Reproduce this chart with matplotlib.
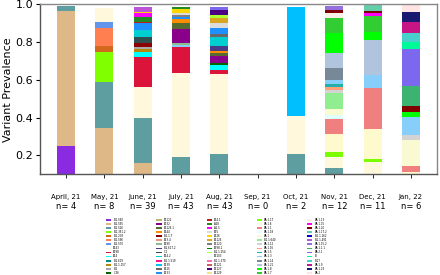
import matplotlib
matplotlib.use("Agg")
import matplotlib.pyplot as plt
from matplotlib.patches import Patch

months = ["April, 21", "May, 21", "June, 21", "July, 21", "Aug, 21",
          "Sep, 21", "Oct, 21", "Nov, 21", "Dec, 21", "Jan, 22"]
n_seq = [4, 8, 39, 43, 43, 0, 2, 12, 11, 6]

lineages = [
    "B.1.560", "B.1.595", "B.1.526", "B.1.351.2", "B.1.238", "B.1.596", "B.1.570",
    "AY.43", "AY.98", "AY.4", "B.1.619", "B.1.1.157", "B.1", "C.36",
    "AY.122", "AY.32", "AY.126.1", "AY.44", "B.1.1.7", "AY.3.4", "AY.90",
    "B.1.617.2", "C.1", "AY.4.2", "B.1.1.519", "AY.39", "AY.25", "AY.33",
    "AY.4.1", "A.28", "A.2.5", "AY.5", "AY.26", "AY.126", "AY.120",
    "AY.98.1", "B.1.1.254", "AY.103", "B.1.1.370", "AY.121", "AY.127", "AY.129",
    "BA.1.17", "BA.1.6", "BA.1.1", "BA.1.18", "BA.1", "B.1.1.640", "BA.1.12",
    "BA.1.16", "BA.1.5", "BA.1.3", "BA.1.14", "BA.1.21", "BA.1.8", "BA.1.7",
    "BA.1.13", "BA.1.15", "BA.1.20", "BA.1.17.2", "B.1.1.162", "B.1.1.491", "BA.1.15.2",
    "BA.1.1.1", "BA.2.1", "B", "B.17", "BA.1.9", "BA.1.23", "BA.2",
]
colors = [
    "blueviolet", "burlywood", "cadetblue", "chartreuse", "chocolate", "coral", "cornflowerblue",
    "cornsilk", "crimson", "cyan", "darkcyan", "darkgoldenrod", "darkgray", "darkgreen",
    "darkkhaki", "darkmagenta", "darkolivegreen", "darkorange", "darkred", "darksalmon", "darkseagreen",
    "darkslateblue", "darkslategray", "darkturquoise", "deeppink", "deepskyblue", "dimgray", "dodgerblue",
    "firebrick", "forestgreen", "fuchsia", "gainsboro", "gold", "goldenrod", "gray",
    "green", "greenyellow", "honeydew", "hotpink", "indianred", "indigo", "khaki",
    "lawngreen", "lemonchiffon", "lightcoral", "lightcyan", "lightgoldenrodyellow", "lightgreen", "lightgray",
    "lightsalmon", "lightseagreen", "lightskyblue", "lightslategray", "lightsteelblue", "lime", "limegreen",
    "linen", "magenta", "maroon", "mediumaquamarine", "mediumblue", "mediumorchid", "mediumpurple",
    "mediumseagreen", "mediumslateblue", "mediumspringgreen", "mediumturquoise", "mediumvioletred", "midnightblue", "mistyrose",
]

# prevalence per month, bottom to top
apr = [("B.1.560", 0.248), ("B.1.595", 0.717), ("B.1.526", 0.029)]
may = [("B.1.595", 0.345), ("B.1.526", 0.246), ("B.1.351.2", 0.158), ("B.1.238", 0.030),
       ("B.1.596", 0.098), ("B.1.570", 0.030), ("AY.43", 0.074)]
jun = [("B.1.595", 0.157), ("B.1.526", 0.238), ("AY.43", 0.165), ("AY.98", 0.162),
       ("AY.4", 0.025), ("B.1.1.157", 0.015), ("B.1", 0.014), ("B.1.1.7", 0.018),
       ("C.1", 0.032), ("AY.4.2", 0.036), ("AY.33", 0.038), ("AY.4.1", 0.007),
       ("A.28", 0.028), ("A.2.5", 0.018), ("AY.26", 0.007), ("B.1.1.491", 0.025)]
jul = [("B.1.526", 0.191), ("AY.43", 0.443), ("AY.98", 0.142), ("BA.1.3", 0.007),
       ("AY.90", 0.011), ("AY.32", 0.074), ("AY.126.1", 0.035), ("AY.44", 0.018),
       ("AY.33", 0.012), ("AY.120", 0.012), ("AY.5", 0.011), ("AY.26", 0.018), ("A.28", 0.014)]
aug = [("B.1.526", 0.204), ("AY.43", 0.426), ("AY.98", 0.022), ("AY.4", 0.026),
       ("C.36", 0.012), ("AY.32", 0.036), ("AY.126.1", 0.018), ("AY.44", 0.010),
       ("B.1.617.2", 0.025), ("AY.4.2", 0.050), ("AY.25", 0.014), ("AY.33", 0.030),
       ("AY.5", 0.030), ("AY.126", 0.023), ("B.1.1.254", 0.018), ("AY.127", 0.027),
       ("BA.2.1", 0.017)]
sep = []
octo = [("B.1.526", 0.204), ("AY.43", 0.203), ("AY.39", 0.581)]
nov = [("B.1.526", 0.132), ("AY.43", 0.056), ("BA.1.17", 0.027), ("BA.1.6", 0.100),
       ("BA.1.1", 0.078), ("BA.1.18", 0.019), ("BA.1", 0.031), ("B.1.1.640", 0.085),
       ("BA.1.12", 0.017), ("BA.1.16", 0.015), ("BA.1.5", 0.017), ("BA.1.3", 0.021),
       ("BA.1.14", 0.062), ("BA.1.21", 0.080), ("BA.1.8", 0.110), ("BA.1.7", 0.076),
       ("BA.1.13", 0.027), ("BA.1.20", 0.018), ("BA.1.15.2", 0.021)]
dec = [("B.1.526", 0.103), ("AY.43", 0.063), ("BA.1.17", 0.014), ("BA.1.6", 0.160),
       ("BA.1.1", 0.216), ("BA.1.3", 0.067), ("BA.1.21", 0.188), ("BA.1.8", 0.044),
       ("BA.1.7", 0.084), ("BA.1.15", 0.014), ("BA.1.20", 0.011), ("BA.1.17.2", 0.035)]
jan = [("BA.1.6", 0.111), ("BA.1.1", 0.031), ("BA.1", 0.138), ("BA.1.12", 0.026),
       ("BA.1.3", 0.097), ("BA.1.8", 0.027), ("BA.1.20", 0.030), ("BA.1.1.1", 0.107),
       ("BA.2.1", 0.195), ("B", 0.040), ("B.17", 0.045), ("BA.1.9", 0.062),
       ("BA.1.23", 0.053), ("BA.2", 0.035)]
monthly = [apr, may, jun, jul, aug, sep, octo, nov, dec, jan]

color_of = dict(zip(lineages, colors))

fig = plt.figure(figsize=(4.4, 2.75), dpi=100)
ax = fig.add_axes([0.091, 0.367, 0.902, 0.617])

for i, segs in enumerate(monthly):
    bottom = 0.0
    for name, val in segs:
        ax.bar(i, val, bottom=bottom, width=0.47, color=color_of[name], linewidth=0)
        bottom += val

ax.set_xlim(-0.68, 9.68)
ax.set_ylim(0.1, 1.0)
ax.set_yticks([0.2, 0.4, 0.6, 0.8, 1.0])
ax.set_yticklabels(["0.2", "0.4", "0.6", "0.8", "1.0"], fontsize=8)
ax.set_ylabel("Variant Prevalence", fontsize=8, labelpad=2)
ax.set_xticks(range(len(months)))
ax.set_xticklabels(months, fontsize=5)
ax.tick_params(axis="x", pad=11, length=3, width=0.6)
ax.tick_params(axis="y", length=3, width=0.8, pad=2)
for s in ["left", "bottom"]:
    ax.spines[s].set_color("#555555")
    ax.spines[s].set_linewidth(1.0)
for s in ["top", "right"]:
    ax.spines[s].set_color("#888888")
    ax.spines[s].set_linewidth(1.0)

for i, n in enumerate(n_seq):
    ax.text(i, -0.19, f"n= {n}", transform=ax.get_xaxis_transform(),
            ha="center", va="center", fontsize=6)

handles = [Patch(facecolor=color_of[name], label=name) for name in lineages]
fig.legend(handles=handles, ncol=5, loc="upper left", bbox_to_anchor=(0.238, 0.212),
           frameon=False, fontsize=1.9, handlelength=2.0, handleheight=0.7,
           labelspacing=0.02, columnspacing=11.5, handletextpad=0.8, borderpad=0)

fig.savefig("out.png", dpi=100)
